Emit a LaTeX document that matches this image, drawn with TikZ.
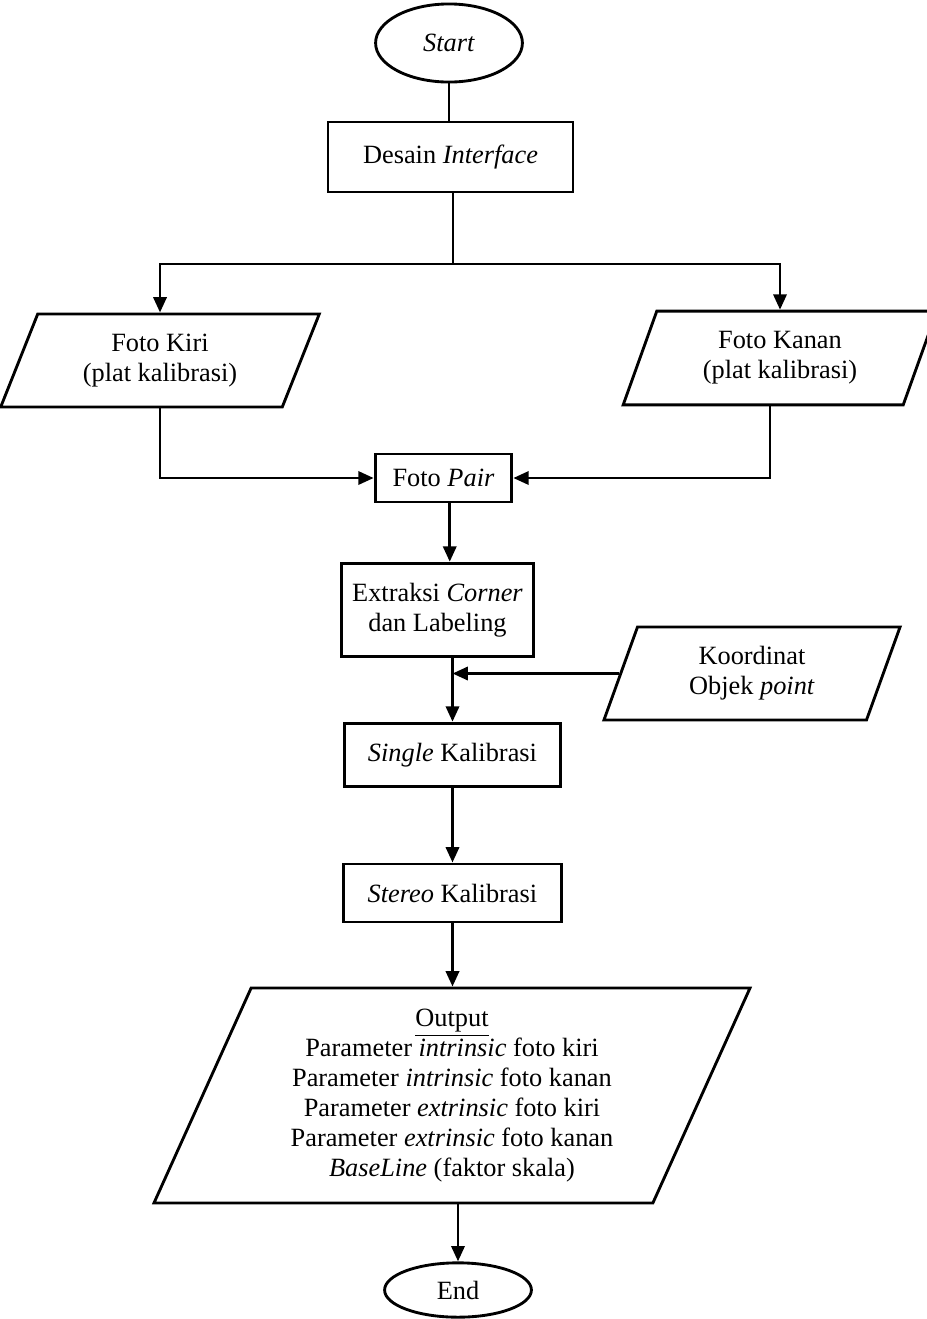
\documentclass[tikz,border=0pt]{standalone}
\usepackage{fontspec}
\setmainfont{Liberation Serif}
\usetikzlibrary{shapes.geometric,arrows.meta}

\begin{document}
\begin{tikzpicture}[x=0.016cm, y=-0.016cm, line width=1.3pt,
        font=\fontsize{12}{13.6}\selectfont,
        term/.style = {draw, ellipse, minimum width=2.35cm, inner sep=0pt},
        proc/.style = {draw, rectangle, align=center, inner sep=0pt},
        io/.style = {draw, trapezium, trapezium stretches body, align=center, inner sep=0pt},
        arr/.style = {-{Triangle[length=7pt, width=6pt]}}]
        \useasboundingbox (0,0) rectangle (927,1319);
        \node[term, minimum height=1.25cm] (start) at (449,43) {\textit{Start}};
        \node[proc, minimum width=3.92cm, minimum height=1.12cm] (desain) at (450.5,157) {Desain \textit{Interface}};
        \node[io, trapezium left angle=55, trapezium right angle=125, minimum width=5.1cm, minimum height=1.49cm] (kiri) at (160,360.5) {Foto Kiri\\(plat kalibrasi)};
        \node[io, trapezium left angle=57.5, trapezium right angle=122.5, minimum width=5.02cm, minimum height=1.5cm] (kanan) at (780,358) {Foto Kanan\\(plat kalibrasi)};
        \node[proc, minimum width=2.19cm, minimum height=0.77cm] (pair) at (443.5,478) {Foto \textit{Pair}};
        \node[proc, minimum width=3.06cm, minimum height=1.5cm] (extr) at (437.5,610) {Extraksi \textit{Corner}\\dan Labeling};
        \node[io, trapezium left angle=58, trapezium right angle=122, minimum width=4.74cm, minimum height=1.49cm] (koord) at (752,673.5) {Koordinat\\Objek \textit{point}};
        \node[proc, minimum width=3.47cm, minimum height=1.02cm] (single) at (452.5,755) {\textit{Single} Kalibrasi};
        \node[proc, minimum width=3.5cm, minimum height=0.93cm] (stereo) at (452.5,893) {\textit{Stereo} Kalibrasi};
        \node[io, trapezium left angle=60.6, trapezium right angle=119.4, minimum width=9.54cm, minimum height=3.44cm] (output) at (452,1095.5) {\underline{Output}\\Parameter \textit{intrinsic} foto kiri\\Parameter \textit{intrinsic} foto kanan\\Parameter \textit{extrinsic} foto kiri\\Parameter \textit{extrinsic} foto kanan\\\textit{BaseLine} (faktor skala)};
        \node[term, minimum height=0.87cm] (end) at (458,1290) {End};
        \coordinate (split) at (453,264);
        % alur utama
        \draw (start.south) -- (start.south |- desain.north);
        \draw (desain.south -| split) -- (split);
        \draw[arr] (split) -| (kiri.north);
        \draw[arr] (split) -| (kanan.north);
        \draw[arr] (kiri.south) |- (pair.west);
        \draw[arr] ([xshift=-0.16cm]kanan.south) |- (pair.east);
        \draw[arr] ([xshift=0.1cm]pair.south) -- ([xshift=0.1cm]pair.south |- extr.north);
        \draw[arr] (extr.south -| single.north) -- (single.north);
        \draw[arr] (koord.west) -- (koord.west -| single.north);
        \draw[arr] (single.south) -- (stereo.north);
        \draw[arr] (stereo.south) -- (stereo.south |- output.north);
        \draw[arr] (output.south -| end.north) -- (end.north);
\end{tikzpicture}
\end{document}
